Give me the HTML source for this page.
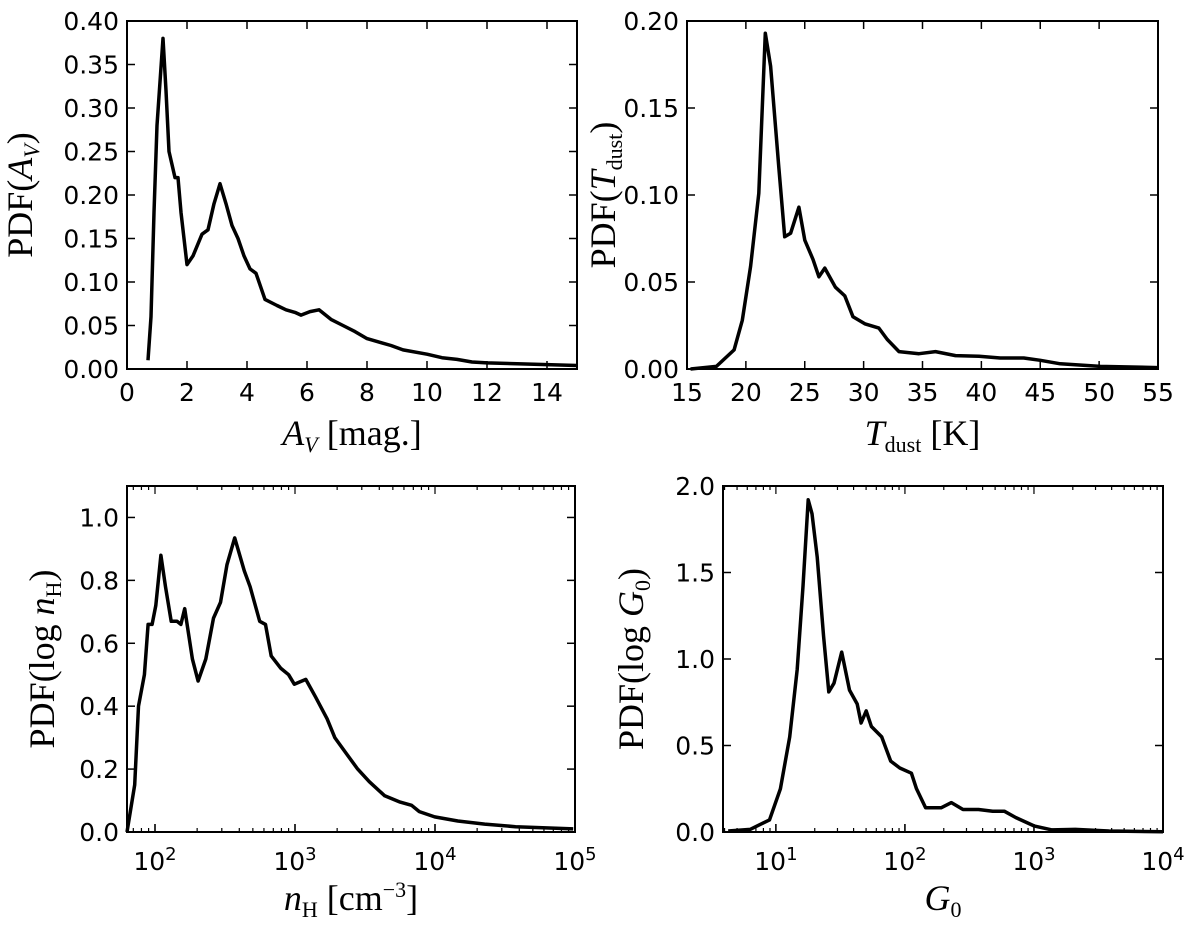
<!DOCTYPE html>
<html><head><meta charset="utf-8"><style>
body{margin:0;background:#fff}
svg text{font-family:"DejaVu Sans","Liberation Sans",sans-serif}
.lab{font-family:"Liberation Serif","DejaVu Serif",serif;font-size:36px}
</style></head><body>
<svg id="fig" width="1200" height="933" xmlns="http://www.w3.org/2000/svg"></svg>
<script>
const avX=[0.7,0.8,0.9,1.0,1.1,1.2,1.3,1.4,1.6,1.7,1.8,2.0,2.2,2.5,2.7,2.9,3.1,3.3,3.5,3.7,3.9,4.1,4.3,4.6,5.0,5.3,5.6,5.8,6.1,6.4,6.8,7.2,7.6,8,8.5,8.8,9.2,10,10.5,11,11.5,12,13,14,15];
const avY=[0.01,0.06,0.18,0.28,0.33,0.38,0.32,0.25,0.22,0.22,0.18,0.12,0.13,0.155,0.16,0.19,0.213,0.19,0.165,0.15,0.13,0.115,0.11,0.08,0.073,0.068,0.065,0.062,0.066,0.068,0.057,0.05,0.043,0.035,0.03,0.027,0.022,0.017,0.013,0.011,0.008,0.007,0.006,0.005,0.004];
const tdX=[15.3,17.5,19.0,19.7,20.4,21.1,21.65,22.1,22.8,23.3,23.8,24.5,25.0,25.7,26.2,26.7,27.6,28.4,29.1,30.1,31.3,32.0,33.0,34.7,36.1,37.8,39.8,41.6,43.6,45.0,46.7,50.1,55];
const tdY=[0,0.0015,0.011,0.028,0.059,0.101,0.193,0.174,0.116,0.076,0.078,0.093,0.074,0.063,0.053,0.058,0.047,0.042,0.030,0.026,0.0235,0.017,0.010,0.0088,0.010,0.0077,0.0073,0.0063,0.0063,0.005,0.003,0.0015,0.0008];
const nhLog=[1.80,1.855,1.882,1.924,1.951,1.979,2.006,2.042,2.075,2.116,2.157,2.185,2.212,2.267,2.308,2.363,2.418,2.468,2.514,2.569,2.638,2.679,2.748,2.789,2.83,2.899,2.954,2.995,3.077,3.146,3.229,3.284,3.366,3.448,3.531,3.641,3.751,3.833,3.888,3.998,4.163,4.355,4.575,4.987];
const nhY=[0,0.15,0.4,0.5,0.66,0.66,0.72,0.88,0.78,0.67,0.67,0.66,0.71,0.55,0.48,0.55,0.68,0.73,0.85,0.935,0.83,0.78,0.67,0.66,0.56,0.52,0.5,0.47,0.485,0.43,0.36,0.3,0.25,0.2,0.16,0.115,0.095,0.085,0.065,0.048,0.035,0.025,0.017,0.01];
const gLog=[0.63,0.80,0.95,1.035,1.107,1.165,1.21,1.25,1.28,1.32,1.37,1.41,1.45,1.51,1.57,1.63,1.66,1.70,1.74,1.82,1.89,1.96,2.05,2.09,2.16,2.28,2.36,2.45,2.57,2.68,2.77,2.86,3.0,3.14,3.32,3.58,4.0];
const gY=[0.006,0.015,0.07,0.25,0.55,0.94,1.42,1.92,1.84,1.59,1.13,0.81,0.86,1.04,0.82,0.74,0.63,0.70,0.61,0.55,0.41,0.37,0.34,0.25,0.14,0.14,0.17,0.13,0.13,0.12,0.12,0.083,0.035,0.012,0.015,0.006,0.002];
const avTicksX=[0,2,4,6,8,10,12,14], avTicksY=["0.00","0.05","0.10","0.15","0.20","0.25","0.30","0.35","0.40"];
const tdTicksX=[15,20,25,30,35,40,45,50,55], tdTicksY=["0.00","0.05","0.10","0.15","0.20"];
const nhTicksY=["0.0","0.2","0.4","0.6","0.8","1.0"], gTicksY=["0.0","0.5","1.0","1.5","2.0"];

const svg=document.getElementById('fig');const NS='http://www.w3.org/2000/svg';
function el(t,a,txt){const e=document.createElementNS(NS,t);for(const k in a)e.setAttribute(k,a[k]);if(txt!==undefined)e.innerHTML=txt;svg.appendChild(e);return e;}
function panel(p){
 const {L,R,T,B,x0,x1,y0,y1,name}=p;
 const sx=v=>L+(v-x0)/(x1-x0)*(R-L), sy=v=>B-(v-y0)/(y1-y0)*(B-T);
 p.yt.forEach(s=>{const v=parseFloat(s),y=sy(v);
  el('line',{x1:L,x2:L+8,y1:y,y2:y,stroke:'#000','stroke-width':1.5});
  el('line',{x1:R,x2:R-8,y1:y,y2:y,stroke:'#000','stroke-width':1.5});
  const t=el('text',{x:L-8,y:y+9,'text-anchor':'end','font-size':25},s);
  });
 if(!p.log){p.xt.forEach(v=>{const x=sx(v);
  el('line',{x1:x,x2:x,y1:B,y2:B-8,stroke:'#000','stroke-width':1.5});
  el('line',{x1:x,x2:x,y1:T,y2:T+8,stroke:'#000','stroke-width':1.5});
  const t=el('text',{x:x,y:B+32,'text-anchor':'middle','font-size':25},v);
  });}
 else{for(let d=Math.floor(x0);d<x1;d++){for(let m=1;m<10;m++){const lv=d+Math.log10(m);if(lv<x0||lv>x1)continue;const x=sx(lv),len=m==1?8:4;
   el('line',{x1:x,x2:x,y1:B,y2:B-len,stroke:'#000','stroke-width':1.2});
   el('line',{x1:x,x2:x,y1:T,y2:T+len,stroke:'#000','stroke-width':1.2});}}
  for(let d=Math.ceil(x0);d<=x1;d++){const x=sx(d);
   el('line',{x1:x,x2:x,y1:B,y2:B-8,stroke:'#000','stroke-width':1.5});
   const t=el('text',{x:x,y:B+38,'text-anchor':'middle','font-size':25},'10<tspan dy="-10" font-size="18">'+d+'</tspan>');
   }}
 const pts=p.xs.map((v,i)=>sx(v).toFixed(1)+','+sy(p.ys[i]).toFixed(1)).join(' ');
 const c=el('polyline',{points:pts,fill:'none',stroke:'#000','stroke-width':3.5,'stroke-linejoin':'round'});
 
 const f=el('rect',{x:L,y:T,width:R-L,height:B-T,fill:'none',stroke:'#000','stroke-width':2});
 
 const xl=el('text',{x:(L+R)/2,y:p.xly,'text-anchor':'middle',class:'lab'},p.xl);
 
 const cy=(T+B)/2,cx=L-p.ylo;
 const yl=el('text',{x:cx,y:cy,'text-anchor':'middle',class:'lab',transform:`rotate(-90 ${cx} ${cy})`},p.yl);
 
}
panel({name:'av',L:127,R:577,T:21,B:369,x0:0,x1:15,y0:0,y1:0.4,xs:avX,ys:avY,xt:avTicksX,yt:avTicksY,xly:445,ylo:95,
 xl:'<tspan font-style="italic">A</tspan><tspan font-style="italic" font-size="22" dy="7">V</tspan><tspan dy="-7"> [mag.]</tspan>',
 yl:'PDF(<tspan font-style="italic">A</tspan><tspan font-style="italic" font-size="22" dy="7">V</tspan><tspan dy="-7">)</tspan>'});
panel({name:'tdust',L:687,R:1158,T:21,B:369,x0:15,x1:55,y0:0,y1:0.2,xs:tdX,ys:tdY,xt:tdTicksX,yt:tdTicksY,xly:445,ylo:72,
 xl:'<tspan font-style="italic">T</tspan><tspan font-size="22" dy="7">dust</tspan><tspan dy="-7"> [K]</tspan>',
 yl:'PDF(<tspan font-style="italic">T</tspan><tspan font-size="22" dy="7">dust</tspan><tspan dy="-7">)</tspan>'});
panel({name:'nh',L:127,R:575,T:486,B:832,x0:1.8,x1:5,y0:0,y1:1.1,xs:nhLog,ys:nhY,log:true,yt:nhTicksY,xly:910,ylo:73,
 xl:'<tspan font-style="italic">n</tspan><tspan font-size="22" dy="7">H</tspan><tspan dy="-7"> [cm</tspan><tspan font-size="22" dy="-13">−3</tspan><tspan dy="13">]</tspan>',
 yl:'PDF(log <tspan font-style="italic">n</tspan><tspan font-size="22" dy="7">H</tspan><tspan dy="-7">)</tspan>'});
panel({name:'g0',L:723,R:1163,T:486,B:832,x0:0.59,x1:4,y0:0,y1:2,xs:gLog,ys:gY,log:true,yt:gTicksY,xly:910,ylo:80,
 xl:'<tspan font-style="italic">G</tspan><tspan font-size="22" dy="7">0</tspan>',
 yl:'PDF(log <tspan font-style="italic">G</tspan><tspan font-size="22" dy="7">0</tspan><tspan dy="-7">)</tspan>'});
</script>
</body></html>
